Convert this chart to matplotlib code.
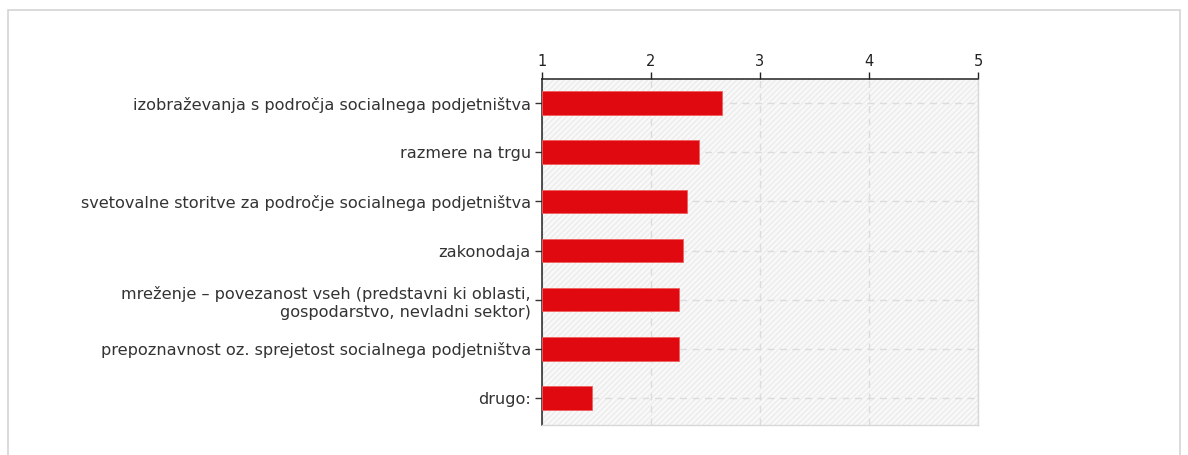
"""Mean ratings per category, horizontal bars on a 1-5 scale."""
import matplotlib

matplotlib.use("Agg")
import matplotlib.pyplot as plt
from matplotlib.patches import Rectangle
import numpy as np

CATEGORIES = [
    "izobraževanja s področja socialnega podjetništva",
    "razmere na trgu",
    "svetovalne storitve za področje socialnega podjetništva",
    "zakonodaja",
    "mreženje – povezanost vseh (predstavni ki oblasti,\ngospodarstvo, nevladni sektor)",
    "prepoznavnost oz. sprejetost socialnega podjetništva",
    "drugo:",
]
MEANS = [2.65, 2.44, 2.33, 2.29, 2.26, 2.26, 1.46]
X_TICKS = [1, 2, 3, 4, 5]

BAR_COLOR = "#e0090f"

plt.rcParams["hatch.color"] = "#e6e6e6"
plt.rcParams["hatch.linewidth"] = 0.6

fig = plt.figure(figsize=(11.88, 4.55), dpi=100)
fig.patches.append(Rectangle((8 / 1188, -0.05), 1172 / 1188, 1.05 - 10 / 455,
                             transform=fig.transFigure, fill=False,
                             edgecolor="#d4d4d4", linewidth=1.2))

ax = fig.add_axes([542 / 1188, 1 - 425 / 455, 436 / 1188, 346 / 455])
ax.add_patch(Rectangle((0, 0), 1, 1, transform=ax.transAxes, facecolor="#f8f8f8",
                       hatch="//////", edgecolor="#e6e6e6", linewidth=0, zorder=0))

y = np.arange(len(CATEGORIES))
ax.barh(y, [m - 1 for m in MEANS], left=1, height=0.48, color=BAR_COLOR,
        edgecolor="#f06060", linewidth=0.6, zorder=3)

ax.set_xlim(1, 5)
ax.set_ylim(len(CATEGORIES) - 0.45, -0.49)
ax.set_xticks(X_TICKS)
ax.xaxis.tick_top()
ax.tick_params(axis="x", direction="out", length=5, width=1, colors="#222222",
               labelsize=10.5, pad=2)
ax.set_yticks(y)
ax.set_yticklabels(CATEGORIES, fontsize=11.6, color="#222222", linespacing=1.3)
ax.tick_params(axis="y", direction="out", length=5, width=1, colors="#333333", pad=3)

ax.grid(True, color="#dcdcdc", linestyle=(0, (5, 4)), linewidth=1)
ax.set_axisbelow(True)

for side in ("top", "left"):
    ax.spines[side].set_color("#222222")
    ax.spines[side].set_linewidth(1.1)
for side in ("bottom", "right"):
    ax.spines[side].set_color("#d8d8d8")
    ax.spines[side].set_linewidth(1.0)

fig.savefig("out.png", dpi=100)
